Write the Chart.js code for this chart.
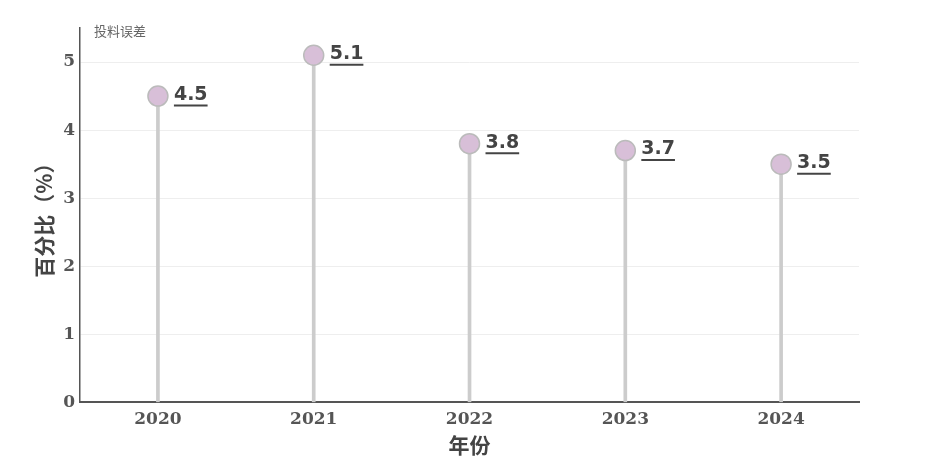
<!DOCTYPE html>
<html>
<head>
<meta charset="utf-8">
<script src="https://cdn.jsdelivr.net/npm/chart.js@4/dist/chart.umd.min.js"></script>
<style>
  html, body { margin: 0; padding: 0; background: #fff; }
  #wrap { width: 932px; height: 464px; }
</style>
</head>
<body>
<div id="wrap"><canvas id="chart" width="932" height="464"></canvas></div>
<script>
// 数据
const years = ['2020', '2021', '2022', '2023', '2024'];
const errorValues = [4.5, 5.1, 3.8, 3.7, 3.5];
const seriesName = '投料误差';
const yTitle = '百分比（%）';
const xTitle = '年份';

// 数值标签 + 系列名
const labelPlugin = {
    id: 'labels',
    afterDatasetsDraw(chart) {
        const ctx = chart.ctx;
        const meta = chart.getDatasetMeta(1);
        ctx.save();
        ctx.font = 'bold 19px "DejaVu Sans", sans-serif';
        ctx.fillStyle = '#444';
        ctx.strokeStyle = '#444';
        ctx.textBaseline = 'middle';
        ctx.textAlign = 'left';
        meta.data.forEach((pt, i) => {
            const txt = errorValues[i].toFixed(1);
            const x = pt.x + 16;
            const y = pt.y - 1;
            ctx.fillText(txt, x, y);
            const w = ctx.measureText(txt).width;
            ctx.lineWidth = 2;
            ctx.beginPath();
            ctx.moveTo(x, y + 10.5);
            ctx.lineTo(x + w, y + 10.5);
            ctx.stroke();
        });
        // 系列名
        const area = chart.chartArea;
        ctx.font = '13px "Noto Sans CJK SC", sans-serif';
        ctx.fillStyle = '#666';
        ctx.fillText(seriesName, area.left + 14, area.top + 3);
        ctx.restore();
    }
};

new Chart(document.getElementById('chart'), {
    type: 'bar',
    data: {
        labels: years,
        datasets: [{
            label: seriesName,
            data: errorValues,
            backgroundColor: '#cccccc',
            barThickness: 3,
            order: 2
        }, {
            type: 'line',
            label: seriesName,
            data: errorValues,
            showLine: false,
            pointRadius: 10,
            pointHoverRadius: 10,
            pointBackgroundColor: '#d8bfd8',
            pointBorderColor: '#bbbbbb',
            pointBorderWidth: 1.5,
            order: 1
        }]
    },
    options: {
        responsive: false,
        animation: false,
        layout: { padding: { top: 28, right: 73, left: 31, bottom: 6 } },
        plugins: {
            legend: { display: false },
            tooltip: { enabled: false }
        },
        scales: {
            x: {
                offset: true,
                grid: { display: true, color: 'transparent', drawTicks: false },
                border: { display: true, color: '#555', width: 2 },
                ticks: {
                    padding: 7,
                    color: '#555',
                    font: { family: '"DejaVu Serif", serif', weight: 'bold', size: 17 }
                },
                title: {
                    display: true,
                    text: xTitle,
                    color: '#444',
                    padding: { top: -4, bottom: 0 },
                    font: { family: '"Noto Sans CJK SC", sans-serif', weight: 'bold', size: 21 }
                }
            },
            y: {
                min: 0,
                max: 5.5,
                ticks: {
                    stepSize: 1,
                    padding: 5,
                    color: '#555',
                    font: { family: '"DejaVu Serif", serif', weight: 'bold', size: 17 }
                },
                afterBuildTicks: s => { s.ticks = s.ticks.filter(t => Number.isInteger(t.value)); },
                grid: { color: '#eeeeee', lineWidth: 1, drawTicks: false },
                border: { display: true, color: '#555', width: 1.5 },
                title: {
                    display: true,
                    text: yTitle,
                    color: '#444',
                    padding: { top: 0, bottom: 2 },
                    font: { family: '"Noto Sans CJK SC", sans-serif', weight: 'bold', size: 21 }
                }
            }
        }
    },
    plugins: [labelPlugin]
});
</script>
</body>
</html>
